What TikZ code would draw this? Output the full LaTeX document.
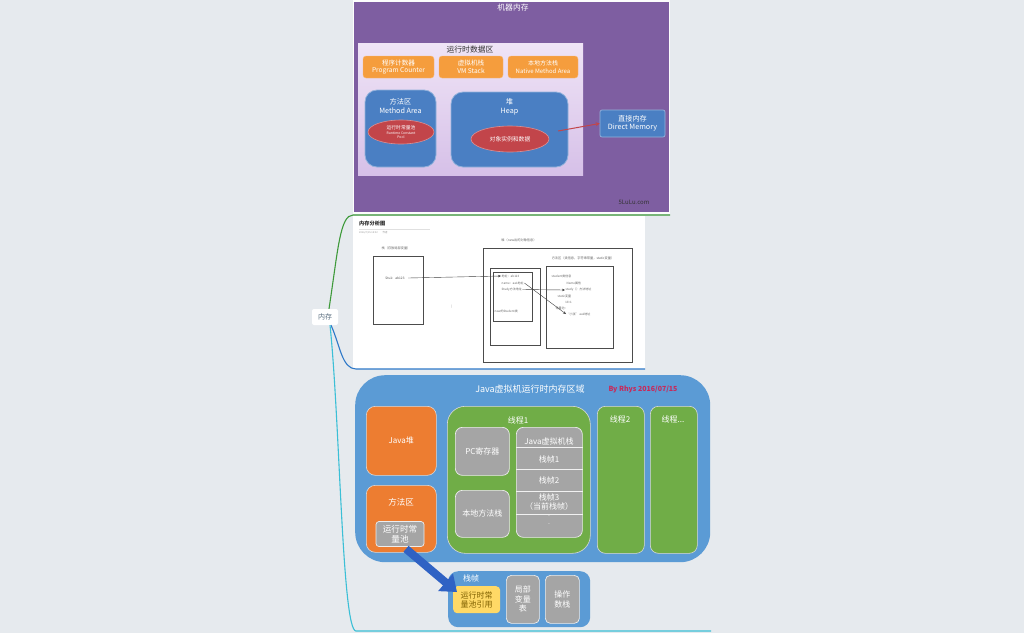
\documentclass[tikz,border=0pt]{standalone}
\usepackage{fontspec}
\setmainfont{Noto Sans CJK SC}
\usetikzlibrary{arrows.meta,shapes.geometric,calc}
\definecolor{bg}{HTML}{E6EAEE}
\definecolor{purp}{HTML}{7E5EA1}
\definecolor{lavtop}{HTML}{EFE4F6}
\definecolor{lavbot}{HTML}{D6C0E8}
\definecolor{orgA}{HTML}{F59D3D}
\definecolor{bluA}{HTML}{4A7FC3}
\definecolor{redA}{HTML}{C2454A}
\definecolor{bluB}{HTML}{5B9BD5}
\definecolor{orgB}{HTML}{ED7D31}
\definecolor{grnB}{HTML}{70AD47}
\definecolor{gryB}{HTML}{A5A5A5}
\definecolor{ylwB}{HTML}{FFD966}
\definecolor{txtY}{HTML}{7F6000}
\definecolor{rhys}{HTML}{C8285A}
\definecolor{arrB}{HTML}{2F62C4}
\definecolor{edgeG}{HTML}{3E9A3A}
\definecolor{edgeB}{HTML}{2D78C8}
\definecolor{edgeC}{HTML}{3BBFD6}
\definecolor{memtxt}{HTML}{5A6E80}
\tikzset{
  fs/.style={font=\fontsize{#1}{\fpeval{1.18*#1}}\selectfont},
  orgbox/.style={fill=orgA, rounded corners=3, draw=orgA!70!white, text=white, align=center, inner sep=0, fs=6.6},
  blubox/.style={fill=bluA, rounded corners=12, draw=bluA!60!white, line width=0.8, text=white, align=center, inner sep=0},
  redell/.style={ellipse, fill=redA, draw=redA!60!white, line width=0.6, text=white, align=center, inner sep=0},
  thin/.style={draw=black!70, line width=0.45},
  tiny/.style={text=black!60, fs=3, inner sep=0.5, anchor=west},
  bigbox/.style={rounded corners=9, draw=white!85!black, line width=0.6, align=center, inner sep=0},
  grybox/.style={fill=gryB, rounded corners=7, draw=white!80!gryB, line width=0.7, text=white, align=center, inner sep=0, fs=8},
  tptr/.style={-{Stealth[length=3,width=2.5]}, draw=black!75, line width=0.4}
}
\begin{document}
\begin{tikzpicture}[x=1pt,y=-1pt]
\fill[bg] (0,0) rectangle (1024,633);
\useasboundingbox (0,0) rectangle (1024,633);

% ---------- machine memory panel ----------
\fill[white!90!bg] (353,0) rectangle (670,214);
\node[fill=purp, minimum width=315, minimum height=210, anchor=north west, inner sep=0] (mach) at (354,2) {};
\node[text=white, fs=7.8] (machT) at (513,8) {机器内存};
\node[top color=lavtop, bottom color=lavbot, minimum width=225, minimum height=132, anchor=north west, inner sep=0] (rt) at (358,43) {};
\node[text=black!80, fs=7.8] (rtT) at (470,50) {运行时数据区};
\node[orgbox, minimum width=71, minimum height=22] (pc) at (398.5,67) {程序计数器\\Program Counter};
\node[orgbox, minimum width=64, minimum height=22] (vms) at (471,67) {虚拟机栈\\VM Stack};
\node[orgbox, minimum width=70, minimum height=22, fs=6] (nms) at (543,67) {本地方法栈\\Native Method Area};
\node[blubox, minimum width=71, minimum height=77] (ma) at (400.5,128.5) {};
\node[text=white, align=center, fs=7.2] (maT) at (400.5,106) {方法区\\Method Area};
\node[redell, minimum width=66, minimum height=24] (rcp) at (401,132) {};
\node[text=white, align=center, fs=3.4, inner sep=0] (rcpT) at (401,132) {{\fontsize{4.8}{5.5}\selectfont 运行时常量池}\\Runtime Constant\\Pool};
\node[blubox, minimum width=117, minimum height=75] (heap) at (509.5,129.5) {};
\node[text=white, align=center, fs=7.2] (heapT) at (509.5,107) {堆\\Heap};
\node[redell, minimum width=78, minimum height=26, fs=5.8] (obj) at (510,139) {对象实例和数据};
\node[fill=bluA, draw=bluA!60!white, line width=0.7, rounded corners=2, minimum width=65, minimum height=27, text=white, align=center, inner sep=0, fs=7.2] (dm) at (632.5,123.5) {直接内存\\Direct Memory};
\coordinate (heapOut) at (558,131);
\draw[redA, line width=1, -{Stealth[length=4,width=4]}] (heapOut) -- (dm.west);
\node[text=black!80, fs=6] (site) at (634,202) {5LuLu.com};

% ---------- memory analysis panel ----------
\node[fill=white, minimum width=292, minimum height=153, anchor=north west, inner sep=0] (ana) at (353,216) {};
\node[text=black!85, fs=5.2, anchor=west, inner sep=0] (anaT) at (359,224) {\textbf{内存分析图}};
\node[text=black!40, fs=2.5, anchor=west, inner sep=0] (anaS) at (359,233) {2016/7/15 15:02\qquad 作者};
\draw[black!12, line width=0.3] (359,229.5) -- (430,229.5);
\node[text=black!60, fs=3.2] (stkL) at (396,248) {栈（存放局部变量）};
\node[thin, minimum width=50, minimum height=68, anchor=north west, inner sep=0] (stk) at (373,256) {};
\node[text=black!70, fs=3.2] (stu) at (395,278) {Stu1：ab123};
\node[text=black!60, fs=3.2] (hpL) at (519,240) {堆（new出的对象信息）};
\node[thin, minimum width=149, minimum height=114, anchor=north west, inner sep=0] (hp) at (483,248) {};
\node[thin, minimum width=50, minimum height=77, anchor=north west, inner sep=0] (hpA) at (490,268) {};
\node[thin, minimum width=39, minimum height=49, anchor=north west, inner sep=0] (hpB) at (493,272) {};
\node[tiny] (addr) at (501,276) {地址：ab123};
\node[tiny] (nm) at (501,283) {name：aa1地址};
\node[tiny] (sdy) at (501,289.5) {Study方法地址};
\node[tiny] (newS) at (494,311) {new的Student类};
\node[text=black!60, fs=3.2] (mtL) at (583,258) {方法区（类信息，字符串常量，static变量）};
\node[thin, minimum width=67, minimum height=82, anchor=north west, inner sep=0] (mt) at (546,266) {};
\node[tiny] (sci) at (551,276) {student类信息};
\node[tiny] (nat) at (566,283) {Name属性};
\node[tiny] (stm) at (565,290) {study（）方法地址};
\node[tiny] (stv) at (557,296) {static变量};
\node[tiny] (idv) at (565,302) {Id=1};
\node[tiny] (cpl) at (555,308) {常量池：};
\node[tiny] (xz) at (566,314) {“小张” aa1地址};
\node[text=black!50, fs=3] (bar) at (452,307) {|};
\draw[tptr] (stu.east) -- (addr.west);
\draw[tptr] (sdy.east) -- (stm.west);
\draw[tptr] (nm.east) -- (xz.west);

% ---------- JVM runtime areas ----------
\node[fill=bluB, rounded corners=30, minimum width=355, minimum height=187, anchor=north west, inner sep=0] (jvm) at (355,375) {};
\node[text=white, fs=9] (jvmT) at (530,389) {Java虚拟机运行时内存区域};
\node[text=rhys, fs=7] (by) at (643,389) {\textbf{By Rhys 2016/07/15}};
\node[bigbox, fill=orgB, text=white, minimum width=70, minimum height=69, anchor=north west, fs=8] (jh) at (366,406) {Java堆};
\node[bigbox, fill=orgB, minimum width=70, minimum height=67, anchor=north west] (mth) at (366,485) {};
\node[text=white, fs=8.5] (mthT) at (401,502) {方法区};
\node[grybox, rounded corners=3, minimum width=48, minimum height=25, fs=8.6] (pool) at (400,534) {运行时常\\量池};
\node[bigbox, fill=grnB, rounded corners=18, minimum width=143, minimum height=147, anchor=north west] (t1) at (447,406) {};
\node[text=white, fs=8] (t1T) at (518,420) {线程1};
\node[grybox, minimum width=54, minimum height=48, anchor=north west] (pcr) at (455,427) {PC寄存器};
\node[grybox, minimum width=54, minimum height=47, anchor=north west] (nst) at (455,490) {本地方法栈};
\node[grybox, minimum width=66, minimum height=110, anchor=north west] (jst) at (516,427) {};
\foreach \yy in {447,469,491,514}
  \draw[white!85!gryB, line width=0.7] (jst.west |- 0,\yy) -- (jst.east |- 0,\yy);
\node[text=white, fs=8] (jstT) at (549,441) {Java虚拟机栈};
\node[text=white, fs=8] (f1) at (549,459) {栈帧1};
\node[text=white, fs=8] (f2) at (549,480) {栈帧2};
\node[text=white, fs=8, align=center] (f3) at (549,502) {栈帧3\\（当前栈帧）};
\node[text=white, fs=7] (dt1) at (549,516) {.};
\node[text=white, fs=7] (dt2) at (549,524) {.};
\node[bigbox, fill=grnB, rounded corners=8, minimum width=47, minimum height=147, anchor=north west] (t2) at (597,406) {};
\node[text=white, fs=8] (t2T) at (620,419) {线程2};
\node[bigbox, fill=grnB, rounded corners=8, minimum width=47, minimum height=147, anchor=north west] (t3) at (650,406) {};
\node[text=white, fs=8] (t3T) at (673,419) {线程...};

% ---------- stack frame ----------
\node[fill=bluB, rounded corners=10, minimum width=142, minimum height=56, anchor=north west, inner sep=0] (sf) at (448,571) {};
\node[text=white, fs=8] (sfT) at (471,578) {栈帧};
\node[fill=ylwB, rounded corners=4, minimum width=47, minimum height=27, anchor=north west, inner sep=0, text=txtY, align=center, fs=8] (ref) at (453,586) {运行时常\\量池引用};
\node[grybox, rounded corners=5, minimum width=33, minimum height=48, anchor=north west] (lv) at (506,575) {局部\\变量\\表};
\node[grybox, rounded corners=5, minimum width=34, minimum height=48, anchor=north west] (ops) at (545,575) {操作\\数栈};
\draw[arrB, line width=8, -{Triangle[length=15,width=22]}] ($(pool.south)+(6,2)$) -- ($(ref.north west)+(4,6)$);

% ---------- mind map branches ----------
\node[fill=white, rounded corners=2, minimum width=26, minimum height=16, inner sep=0, text=memtxt, fs=7] (mem) at (325,317) {内存};
\coordinate (gEnd) at (670,215);
\coordinate (bEnd) at (645,369);
\coordinate (cEnd) at (711,631);
\draw[edgeG, line width=1.1] ($(mem.north)+(4,0)$) .. controls (338,250) and (340,215) .. (353,215) -- (gEnd);
\draw[edgeB, line width=1.1] ($(mem.south)+(6,0)$) .. controls (340,345) and (342,369) .. (356,369) -- (bEnd);
\draw[edgeC, line width=1.1] ($(mem.south)+(5,0)$) .. controls (340,420) and (342,631) .. (356,631) -- (cEnd);
\end{tikzpicture}
\end{document}
